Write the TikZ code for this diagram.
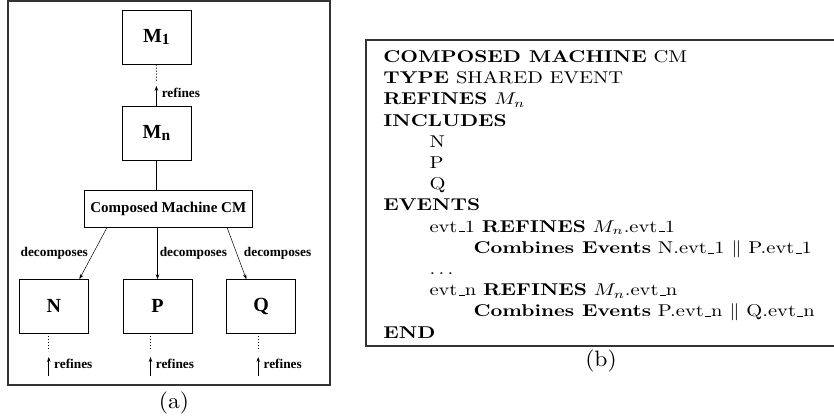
\documentclass[tikz,border=0pt]{standalone}
\usepackage{fontspec}
\newfontfamily\figfont{Liberation Serif}
\usetikzlibrary{arrows.meta,calc}
\newcommand\uscore{\leavevmode\kern.06em\vbox{\hrule width.3em}}

\begin{document}
\begin{tikzpicture}[x=1pt, y=-1pt,
  machine/.style={draw, line width=0.8pt, minimum width=69pt, minimum height=53.5pt, inner sep=0pt,
    font=\figfont\bfseries\fontsize{20}{20}\selectfont},
  tag/.style={inner sep=0pt, font=\figfont\bfseries\fontsize{13.3}{14}\selectfont},
  listing/.style={inner sep=0pt, xscale=2.05, yscale=1.71, font=\fontsize{10}{12.4}\selectfont},
  >={Stealth[length=5pt, width=3.5pt]}]
  \useasboundingbox (0,0) rectangle (834,418);

  % (a) refinement and decomposition
  \draw[line width=1.2pt, black!80] (8,1) rectangle (330,385);
  \node[machine] (M1) at (156.4,37.4) {M\raisebox{-2pt}{\fontsize{15.5}{16}\selectfont 1}};
  \node[machine] (Mn) at (156.4,133.4) {M\raisebox{-2pt}{\fontsize{15.5}{16}\selectfont n}};
  \node[draw, line width=0.8pt, minimum width=168pt, minimum height=36.5pt, inner sep=0pt,
    font=\figfont\bfseries\fontsize{15}{15}\selectfont] (CM) at (168.3,209) {Composed Machine CM};
  \node[machine] (N) at (53.8,306.3) {N};
  \node[machine] (P) at (157.5,306.3) {P};
  \node[machine] (Q) at (261.2,306.3) {Q};

  \draw[dotted, line width=1pt] (M1.south) -- ($(M1.south)!0.42!(Mn.north)$);
  \draw[->, line width=0.8pt] (Mn.north) -- node[tag, right=5pt, pos=0.65] (ref1) {refines} ($(Mn.north)!0.49!(M1.south)$);
  \draw[line width=1.5pt] (Mn.south) -- (Mn.south |- CM.north);

  \draw[->, line width=0.5pt] ([xshift=23pt]CM.south west) -- node[tag, left=5pt] (dec1) {decomposes} ([xshift=-9.3pt]N.north east);
  \draw[->, line width=0.5pt] (P.north |- CM.south) -- node[tag, right=2pt] (dec2) {decomposes} (P.north);
  \draw[->, line width=0.5pt] ([xshift=-25.6pt]CM.south east) -- node[tag, right=7pt] (dec3) {decomposes} ([xshift=20pt]Q.north west);

  \foreach \m/\dx in {N/-5, P/-7, Q/-3} {
    \draw[dotted, line width=1pt] ([xshift=\dx pt]\m.south) -- ++(0,18);
    \draw[->, line width=0.8pt] ([xshift=\dx pt, yshift=-43pt]\m.south) -- node[tag, right=5pt, pos=0.65] {refines} ++(0,-19.5);
  }
  \node[listing, xscale=1.15, yscale=1.3] (capa) at (174,403) {(a)};

  % (b) composed machine text
  \draw[line width=1.2pt, black!80] (366,40) rectangle (870,346);
  \node[listing, anchor=north west, align=left] (spec) at (383,50) {%
    \textbf{COMPOSED MACHINE} CM\\
    \textbf{TYPE} SHARED EVENT\\
    \textbf{REFINES} $M_n$\\
    \textbf{INCLUDES}\\
    \hspace*{22.5pt}N\\
    \hspace*{22.5pt}P\\
    \hspace*{22.5pt}Q\\
    \textbf{EVENTS}\\
    \hspace*{22.5pt}evt\uscore1 \textbf{REFINES} $M_n$.evt\uscore1\\
    \hspace*{44pt}\textbf{Combines Events} N.evt\uscore1 $\|$ P.evt\uscore1\\
    \hspace*{22.5pt}$\ldots$\\
    \hspace*{22.5pt}evt\uscore n \textbf{REFINES} $M_n$.evt\uscore n\\
    \hspace*{44pt}\textbf{Combines Events} P.evt\uscore n $\|$ Q.evt\uscore n\\
    \textbf{END}};
  \node[listing, xscale=1.15, yscale=1.3] (capb) at (601,361) {(b)};
\end{tikzpicture}
\end{document}
